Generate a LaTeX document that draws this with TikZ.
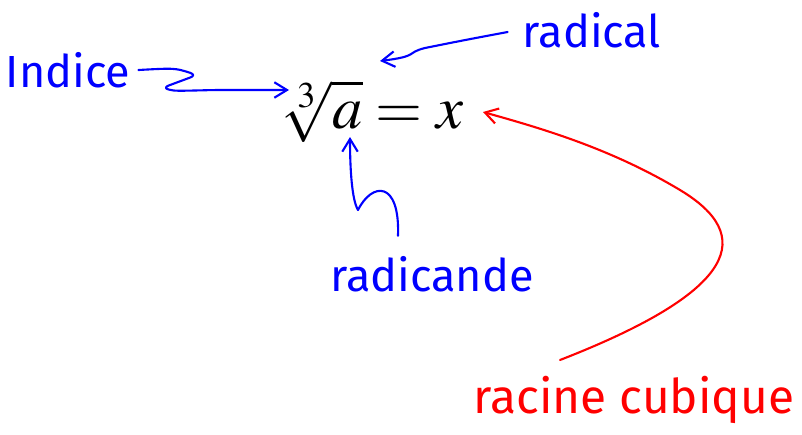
\documentclass[tikz,border=0pt]{standalone}
\usepackage{mathptmx}
\usepackage{fontspec}
\setsansfont{Fira Sans}
\usepackage{tikz}
\usetikzlibrary{arrows.meta,positioning,calc}
\usepackage{xcolor}

\begin{document}
\begin{tikzpicture}[x=0.025cm, y=-0.025cm, every node/.style={inner sep=0pt}]
\tikzset{lbl/.style={font=\sffamily\fontsize{32}{36}\selectfont, anchor=center}}
\tikzset{note/.style={line width=1.5pt, line cap=round, line join=round, -{Straight Barb[length=9pt, width=11pt, line width=1.5pt]}}}
\useasboundingbox (0,0) rectangle (802,434);
\node[anchor=base] (eq) at (372,128) {\fontsize{43}{48}\selectfont$\sqrt[3]{a}=x$};
\node[lbl, blue] (indice) at (68,70) {Indice};
\node[lbl, blue] (radical) at (592,30) {radical};
\node[lbl, blue] (radicande) at (432,274) {radicande};
\node[lbl, red, font=\sffamily\fontsize{34}{38}\selectfont] (cubique) at (634,400) {racine cubique};
\coordinate (idx) at (289,90);
\coordinate (rad) at (380,61);
\coordinate (rdc) at (350,137);
\coordinate (xx) at (483,112);
\coordinate (cstart) at (560,360);
\draw[note, blue, rounded corners=5pt] (indice.east) ++(8,0) .. controls (175,68) .. (197,75) -- (162,88) .. controls (175,91) .. (215,90) -- (idx);
\draw[note, blue] (radical.west) ++(-15,2) .. controls (465,40) .. (425,48) .. controls (405,53) and (420,56) .. (rad);
\draw[note, blue] (radicande.north) ++(-34,-20) .. controls (400,180) and (372,182) .. (358,210) .. controls (352,200) and (350,170) .. (rdc);
\draw[note, red] (cstart) .. controls (740,290) and (755,235) .. (680,190) .. controls (610,148) and (540,128) .. (xx);
\end{tikzpicture}
\end{document}
